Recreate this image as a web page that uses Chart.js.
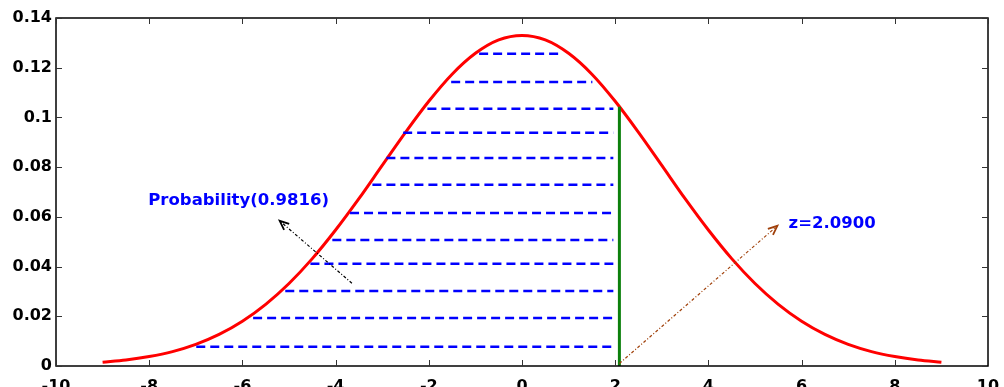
<!DOCTYPE html>
<html>
<head>
<meta charset="utf-8">
<script src="https://cdn.jsdelivr.net/npm/chart.js@4/dist/chart.umd.min.js"></script>
<style>
  html, body { margin: 0; padding: 0; background: #fff; }
  #wrap { width: 1004px; height: 387px; }
</style>
</head>
<body>
<div id="wrap"><canvas id="c" width="1004" height="387"></canvas></div>
<script>
// curve points
const curveX = [-9, -8.5, -8, -7.5, -7, -6.5, -6, -5.5, -5, -4.5, -4, -3.5, -3, -2.5, -2, -1.5, -1, -0.5,
    0, 0.5, 1, 1.5, 2, 2.5, 3, 3.5, 4, 4.5, 5, 5.5, 6, 6.5, 7, 7.5, 8, 8.5, 9];
const curveY = [0.0015, 0.0024, 0.0038, 0.0058, 0.0087, 0.0127, 0.0180, 0.0248, 0.0332, 0.0432, 0.0547,
    0.0673, 0.0807, 0.0940, 0.1065, 0.1174, 0.1258, 0.1312, 0.1330, 0.1312, 0.1258, 0.1174, 0.1065,
    0.0940, 0.0807, 0.0673, 0.0547, 0.0432, 0.0332, 0.0248, 0.0180, 0.0127, 0.0087, 0.0058, 0.0038,
    0.0024, 0.0015];

// blue dashed fill lines
const levelY = [0.0077, 0.0193, 0.0302, 0.0411, 0.0507, 0.0616, 0.0729, 0.0837, 0.0938, 0.1035, 0.1143, 0.1256];
const levelStart = [-6.99, -5.77, -5.08, -4.54, -4.07, -3.69, -3.21, -2.91, -2.55, -2.03, -1.52, -0.92];
const levelEnd = [1.96, 1.96, 1.96, 1.96, 1.96, 1.96, 1.96, 1.96, 1.96, 1.96, 1.51, 0.82];

// z marker
const zValue = 2.09;
const zTop = 0.1043;

// axis ticks
const xTicks = [-10, -8, -6, -4, -2, 0, 2, 4, 6, 8, 10];
const xTickLabels = ["-10", "-8", "-6", "-4", "-2", "0", "2", "4", "6", "8", "10"];
const yTicks = [0, 0.02, 0.04, 0.06, 0.08, 0.1, 0.12, 0.14];
const yTickLabels = ["0", "0.02", "0.04", "0.06", "0.08", "0.1", "0.12", "0.14"];

// annotations (data units)
const probText = "Probability(0.9816)";
const probTextAt = [-8.02, 0.0664];
const probArrow = [[-3.65, 0.0333], [-5.2, 0.0584]];
const zText = "z=2.0900";
const zTextAt = [5.72, 0.0572];
const zArrow = [[2.09, 0.001], [5.48, 0.0564]];

const FONT = "'DejaVu Sans', 'Liberation Sans', Arial, sans-serif";

const datasets = [];
levelY.forEach((y, i) => {
    datasets.push({
        data: [{ x: levelStart[i], y }, { x: levelEnd[i], y }],
        borderColor: "#0000ff",
        borderWidth: 2.5,
        borderDash: [9, 5],
        pointRadius: 0,
        fill: false,
    });
});
datasets.push({
    data: [{ x: zValue, y: 0 }, { x: zValue, y: zTop }],
    borderColor: "#0c800c",
    borderWidth: 3,
    pointRadius: 0,
});
datasets.push({
    data: curveX.map((x, i) => ({ x, y: curveY[i] })),
    borderColor: "#ff0000",
    borderWidth: 3,
    pointRadius: 0,
    tension: 0.4,
    cubicInterpolationMode: "monotone",
});

function drawArrow(ctx, x1, y1, x2, y2, color, dash) {
    ctx.save();
    ctx.strokeStyle = color;
    ctx.lineWidth = 1.2;
    ctx.setLineDash(dash);
    ctx.beginPath();
    ctx.moveTo(x1, y1);
    ctx.lineTo(x2, y2);
    ctx.stroke();
    ctx.setLineDash([]);
    const a = Math.atan2(y2 - y1, x2 - x1);
    const len = 10;
    ctx.lineWidth = 1.8;
    ctx.beginPath();
    ctx.moveTo(x2 - len * Math.cos(a - 0.4), y2 - len * Math.sin(a - 0.4));
    ctx.lineTo(x2, y2);
    ctx.lineTo(x2 - len * Math.cos(a + 0.4), y2 - len * Math.sin(a + 0.4));
    ctx.stroke();
    ctx.restore();
}

const frame = {
    id: "frame",
    afterDraw(chart) {
        const { ctx, chartArea: a, scales } = chart;
        const sx = scales.x, sy = scales.y;
        ctx.save();
        ctx.strokeStyle = "#000";
        ctx.lineWidth = 1.5;
        ctx.strokeRect(a.left, a.top, a.right - a.left, a.bottom - a.top);
        ctx.lineWidth = 1;
        ctx.strokeStyle = "#333";
        ctx.beginPath();
        xTicks.forEach((v) => {
            const px = Math.round(sx.getPixelForValue(v)) + 0.5;
            ctx.moveTo(px, a.bottom); ctx.lineTo(px, a.bottom - 6);
            ctx.moveTo(px, a.top); ctx.lineTo(px, a.top + 6);
        });
        yTicks.forEach((v) => {
            const py = Math.round(sy.getPixelForValue(v)) + 0.5;
            ctx.moveTo(a.left, py); ctx.lineTo(a.left + 6, py);
            ctx.moveTo(a.right, py); ctx.lineTo(a.right - 6, py);
        });
        ctx.stroke();

        // arrows
        drawArrow(ctx,
            sx.getPixelForValue(probArrow[0][0]), sy.getPixelForValue(probArrow[0][1]),
            sx.getPixelForValue(probArrow[1][0]), sy.getPixelForValue(probArrow[1][1]),
            "#000000", [3, 2, 1, 2]);
        drawArrow(ctx,
            sx.getPixelForValue(zArrow[0][0]), sy.getPixelForValue(zArrow[0][1]),
            sx.getPixelForValue(zArrow[1][0]), sy.getPixelForValue(zArrow[1][1]),
            "#a0400a", [3, 2, 1, 2]);

        // labels
        ctx.fillStyle = "#0000ff";
        ctx.font = "bold 16.5px " + FONT;
        ctx.textAlign = "left";
        ctx.textBaseline = "middle";
        ctx.fillText(probText, sx.getPixelForValue(probTextAt[0]), sy.getPixelForValue(probTextAt[1]));
        ctx.fillText(zText, sx.getPixelForValue(zTextAt[0]), sy.getPixelForValue(zTextAt[1]));
        ctx.restore();
    },
};

new Chart(document.getElementById("c"), {
    type: "line",
    data: { datasets },
    options: {
        responsive: false,
        animation: false,
        layout: { padding: { top: 18, right: 16, left: 0, bottom: 0 } },
        plugins: { legend: { display: false }, tooltip: { enabled: false } },
        scales: {
            x: {
                type: "linear",
                min: -10,
                max: 10,
                afterBuildTicks: (s) => { s.ticks = xTicks.map((v) => ({ value: v })); },
                afterFit: (s) => { s.height = 21; },
                grid: { display: false },
                border: { display: false },
                ticks: {
                    color: "#000",
                    font: { family: FONT, size: 16, weight: "bold" },
                    padding: 3,
                    maxRotation: 0,
                    autoSkip: false,
                    callback: (v) => xTickLabels[xTicks.indexOf(v)],
                },
            },
            y: {
                type: "linear",
                min: 0,
                max: 0.14,
                afterBuildTicks: (s) => { s.ticks = yTicks.map((v) => ({ value: v })); },
                afterFit: (s) => { s.width = 56; },
                grid: { display: false },
                border: { display: false },
                ticks: {
                    color: "#000",
                    font: { family: FONT, size: 16, weight: "bold" },
                    padding: -4,
                    autoSkip: false,
                    callback: (v, i) => yTickLabels[i],
                },
            },
        },
    },
    plugins: [frame],
});
</script>
</body>
</html>
